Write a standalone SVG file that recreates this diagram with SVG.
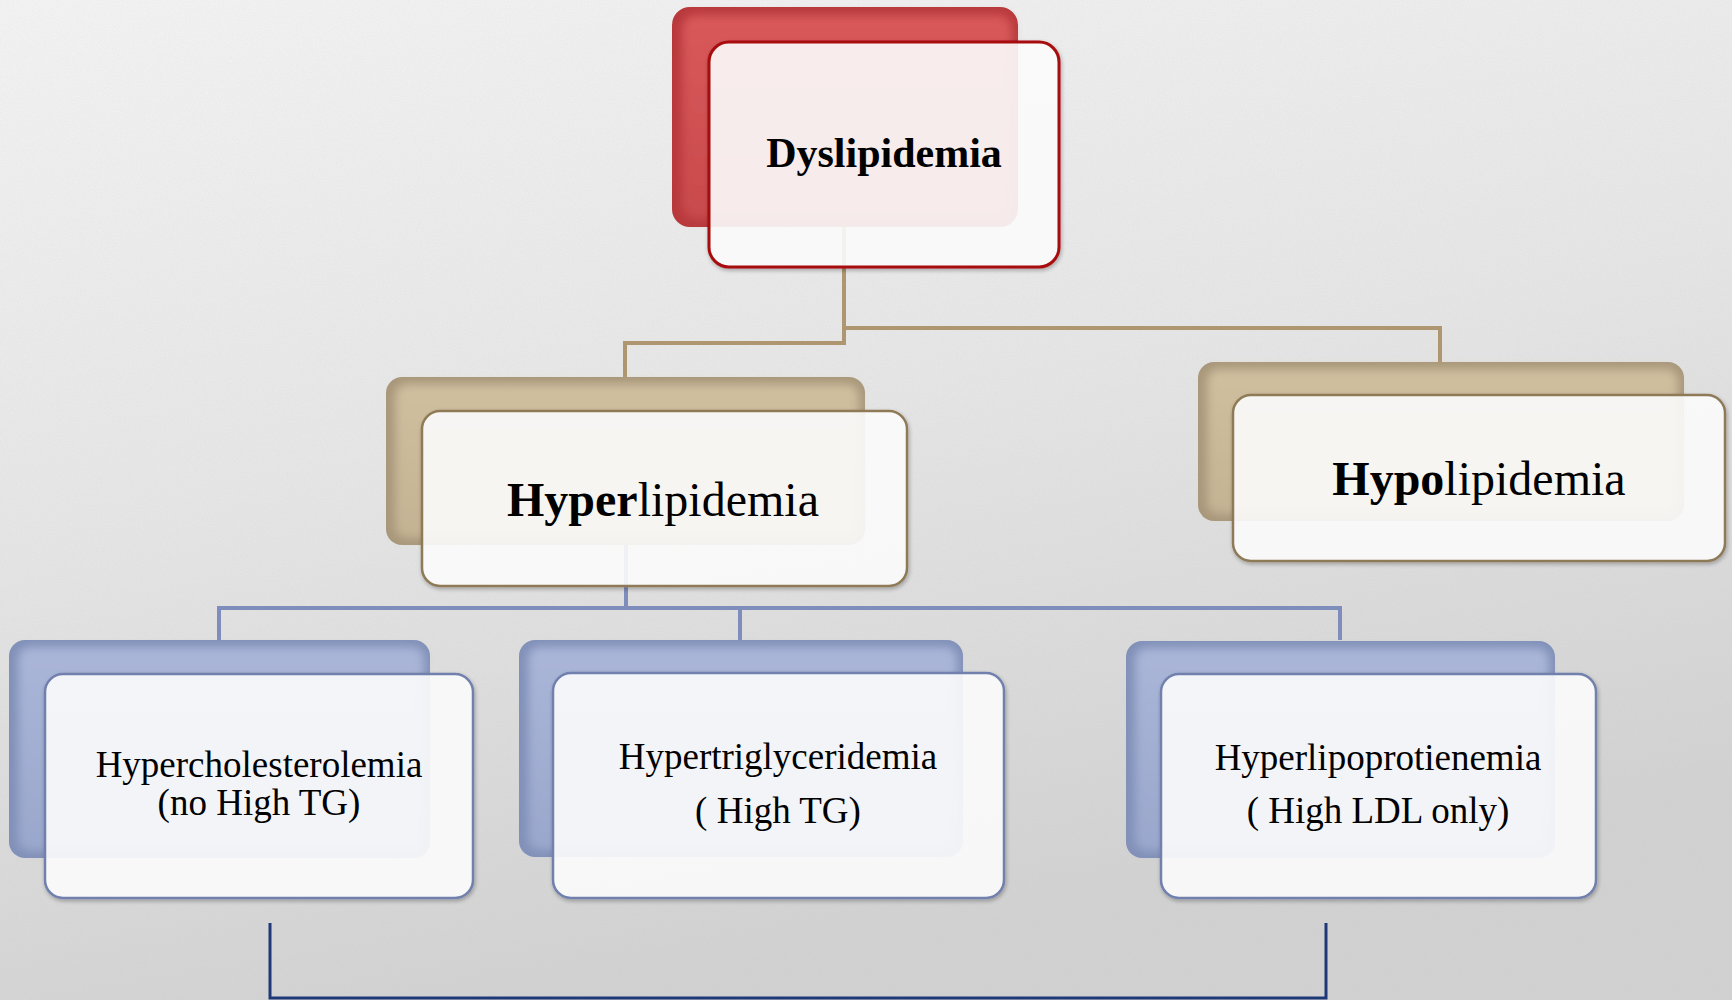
<svg xmlns="http://www.w3.org/2000/svg" width="1732" height="1000" viewBox="0 0 1732 1000">
<defs>
  <linearGradient id="bg" x1="0" y1="0" x2="0.3" y2="1">
    <stop offset="0" stop-color="#f6f6f6"/>
    <stop offset="0.5" stop-color="#e8e8e8"/>
    <stop offset="1" stop-color="#d3d3d3"/>
  </linearGradient>
  <filter id="noise" x="0" y="0" width="100%" height="100%">
    <feTurbulence type="fractalNoise" baseFrequency="0.8" numOctaves="2" seed="3" result="n"/>
    <feColorMatrix type="matrix" values="0 0 0 0 0.45  0 0 0 0 0.45  0 0 0 0 0.45  0 0 0 0.16 0"/>
  </filter>
  <filter id="soft" x="-10%" y="-10%" width="120%" height="120%">
    <feGaussianBlur stdDeviation="5"/>
  </filter>
  <filter id="shadow" x="-10%" y="-10%" width="130%" height="130%">
    <feGaussianBlur in="SourceAlpha" stdDeviation="2"/>
    <feOffset dx="1" dy="2"/>
    <feComponentTransfer><feFuncA type="linear" slope="0.3"/></feComponentTransfer>
    <feMerge><feMergeNode/><feMergeNode in="SourceGraphic"/></feMerge>
  </filter>
  <linearGradient id="redG" x1="0" y1="0" x2="0" y2="1">
    <stop offset="0" stop-color="#d9585a"/>
    <stop offset="1" stop-color="#c94a4c"/>
  </linearGradient>
  <linearGradient id="tanG" x1="0" y1="0" x2="0" y2="1">
    <stop offset="0" stop-color="#cfbf9f"/>
    <stop offset="1" stop-color="#c4b393"/>
  </linearGradient>
  <linearGradient id="bluG" x1="0" y1="0" x2="0" y2="1">
    <stop offset="0" stop-color="#aab6d8"/>
    <stop offset="1" stop-color="#9aa7cc"/>
  </linearGradient>
</defs>
<style>
  .conn-tan { fill: none; stroke: #ad9670; stroke-width: 4; }
  .conn-blue { fill: none; stroke: #7f8dbd; stroke-width: 4; }
  .conn-navy { fill: none; stroke: #1f3877; stroke-width: 3; }
  .front { fill: #ffffff; fill-opacity: 0.88; stroke-width: 2.5; }
  .red .front { stroke: #a80d10; stroke-width: 3; }
  .tan .front { stroke: #8e7a57; }
  .blu .front { stroke: #7180ad; }
  .red .edge { fill: #b8393c; }
  .tan .edge { fill: #a8977a; }
  .blu .edge { fill: #8190b8; }
  .red .core { fill: url(#redG); }
  .tan .core { fill: url(#tanG); }
  .blu .core { fill: url(#bluG); }
  .core { filter: url(#soft); }
  text { font-family: "Liberation Serif", "Times New Roman", serif; fill: #000; text-anchor: middle; }
  .b { font-weight: bold; }
</style>

<rect x="0" y="0" width="1732" height="1000" fill="url(#bg)"/>
<rect x="0" y="0" width="1732" height="1000" filter="url(#noise)"/>

<g id="connectors">
  <polyline class="conn-tan" points="844,227 844,343 625,343 625,377"/>
  <polyline class="conn-tan" points="844,328 1440,328 1440,362"/>
  <polyline class="conn-blue" points="626,545 626,608"/>
  <polyline class="conn-blue" points="219,640 219,608 1340,608 1340,640"/>
  <polyline class="conn-blue" points="740,608 740,640"/>
  <polyline class="conn-navy" points="270,923 270,998 1326,998 1326,923"/>
</g>

<g id="node-dyslipidemia" class="red">
  <rect class="edge" x="672" y="7" width="346" height="220" rx="18"/>
  <rect class="core" x="682" y="15" width="330" height="204" rx="14"/>
  <rect class="front" x="709" y="42" width="350" height="225" rx="20" filter="url(#shadow)"/>
  <text class="b" x="884" y="167" font-size="42">Dyslipidemia</text>
</g>

<g id="node-hyperlipidemia" class="tan">
  <rect class="edge" x="386" y="377" width="479" height="168" rx="16"/>
  <rect class="core" x="395" y="384" width="464" height="154" rx="12"/>
  <rect class="front" x="422" y="411" width="485" height="175" rx="18" filter="url(#shadow)"/>
  <text x="663" y="516" font-size="48"><tspan class="b">Hyper</tspan>lipidemia</text>
</g>

<g id="node-hypolipidemia" class="tan">
  <rect class="edge" x="1198" y="362" width="486" height="159" rx="16"/>
  <rect class="core" x="1207" y="369" width="471" height="145" rx="12"/>
  <rect class="front" x="1233" y="395" width="492" height="166" rx="18" filter="url(#shadow)"/>
  <text x="1479" y="495" font-size="48"><tspan class="b">Hypo</tspan>lipidemia</text>
</g>

<g id="node-hypercholesterolemia" class="blu">
  <rect class="edge" x="9" y="640" width="421" height="218" rx="16"/>
  <rect class="core" x="18" y="647" width="406" height="204" rx="12"/>
  <rect class="front" x="45" y="674" width="428" height="224" rx="18" filter="url(#shadow)"/>
  <text x="259" y="777" font-size="37">Hypercholesterolemia</text>
  <text x="259" y="815" font-size="37">(no High TG)</text>
</g>

<g id="node-hypertriglyceridemia" class="blu">
  <rect class="edge" x="519" y="640" width="444" height="217" rx="16"/>
  <rect class="core" x="528" y="647" width="429" height="203" rx="12"/>
  <rect class="front" x="553" y="673" width="451" height="225" rx="18" filter="url(#shadow)"/>
  <text x="778" y="769" font-size="37">Hypertriglyceridemia</text>
  <text x="778" y="823" font-size="37">( High TG)</text>
</g>

<g id="node-hyperlipoprotienemia" class="blu">
  <rect class="edge" x="1126" y="641" width="429" height="217" rx="16"/>
  <rect class="core" x="1135" y="648" width="414" height="203" rx="12"/>
  <rect class="front" x="1161" y="674" width="435" height="224" rx="18" filter="url(#shadow)"/>
  <text x="1378" y="770" font-size="37">Hyperlipoprotienemia</text>
  <text x="1378" y="823" font-size="37">( High LDL only)</text>
</g>
</svg>
